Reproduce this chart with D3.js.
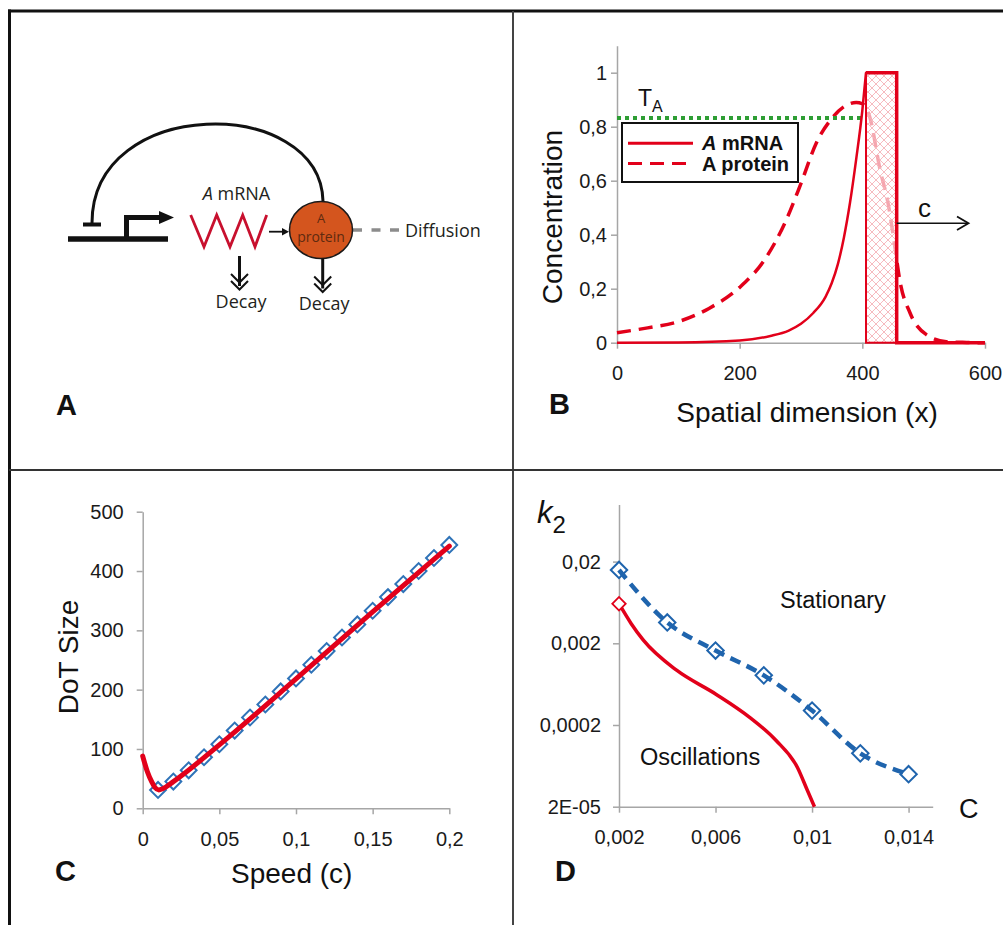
<!DOCTYPE html>
<html>
<head>
<meta charset="utf-8">
<script src="https://cdn.jsdelivr.net/npm/d3@7"></script>
<style>
body { margin: 0; background: #fff; }
svg { display: block; }
</style>
</head>
<body>
<script>
// ---- panel B: concentration profiles ----
const mrnaX = [0, 100, 200, 250, 280, 300, 320, 340, 350, 360, 370, 380, 390, 400, 406];
const mrnaY = [0, 0.001, 0.008, 0.025, 0.045, 0.07, 0.11, 0.17, 0.22, 0.29, 0.39, 0.52, 0.68, 0.86, 1.0];
const protX = [0, 50, 100, 150, 200, 240, 275, 300, 325, 350, 370, 390, 400, 412, 429, 442, 453, 461, 478, 505, 537, 570, 600];
const protY = [0.037, 0.055, 0.078, 0.127, 0.205, 0.305, 0.45, 0.59, 0.74, 0.83, 0.874, 0.89, 0.885, 0.837, 0.64, 0.516, 0.356, 0.232, 0.109, 0.029, 0.004, 0.001, 0];
const frontX = [406, 456];
const thresholdA = 0.832;
const bTicksX = [0, 200, 400, 600];
const bLabelsX = ["0", "200", "400", "600"];
const bTicksY = [0, 0.2, 0.4, 0.6, 0.8, 1];
const bLabelsY = ["0", "0,2", "0,4", "0,6", "0,8", "1"];

// ---- panel C: DoT size vs speed ----
const speed = [0.01, 0.02, 0.03, 0.04, 0.05, 0.06, 0.07, 0.08, 0.09, 0.1, 0.11, 0.12, 0.13, 0.14, 0.15, 0.16, 0.17, 0.18, 0.19, 0.2];
const dotSize = [31, 45, 64, 86, 108, 131, 153, 175, 197, 219, 242, 265, 288, 310, 333, 356, 378, 400, 422, 444];
const fitSpeed = [0, 0.003, 0.006, 0.008, 0.0105, 0.013, 0.02, 0.05, 0.1, 0.15, 0.2];
const fitSize = [88, 62, 44, 35, 31, 33, 45, 107, 218, 331, 442];
const cTicksX = [0, 0.05, 0.1, 0.15, 0.2];
const cLabelsX = ["0", "0,05", "0,1", "0,15", "0,2"];
const cTicksY = [0, 100, 200, 300, 400, 500];
const cLabelsY = ["0", "100", "200", "300", "400", "500"];

// ---- panel D: phase diagram ----
const statC = [0.002, 0.004, 0.006, 0.008, 0.010, 0.012, 0.014];
const statK2 = [0.0158, 0.0036, 0.00163, 0.00081, 0.0003, 0.00009, 0.00005];
const oscC = [0.002, 0.0025, 0.003, 0.0044, 0.006, 0.0074, 0.0085, 0.0094, 0.0098, 0.0101];
const oscK2 = [0.0061, 0.0035, 0.0022, 0.00093, 0.00048, 0.00025, 0.00013, 0.00006, 0.000032, 0.00002];
const dTicksX = [0.002, 0.006, 0.01, 0.014];
const dLabelsX = ["0,002", "0,006", "0,01", "0,014"];
const dTicksY = [0.00002, 0.0002, 0.002, 0.02];
const dLabelsY = ["2E-05", "0,0002", "0,002", "0,02"];

const ARIAL = "'Liberation Sans', Arial, sans-serif";
const OPEN = "'Open Sans', 'Noto Sans', sans-serif";
const RED = "#e2001a";
const BLUE = "#1f64ad";
const AXIS = "#a6a6a6";

const svg = d3.select("body").append("svg")
    .attr("width", 1003)
    .attr("height", 925);

const defs = svg.append("defs");
const pat = defs.append("pattern")
    .attr("id", "hatch")
    .attr("patternUnits", "userSpaceOnUse")
    .attr("width", 8).attr("height", 8);
pat.append("rect").attr("width", 8).attr("height", 8).attr("fill", "#fff").attr("fill-opacity", 0.65);
pat.append("path").attr("d", "M0,0L8,8M8,0L0,8").attr("stroke", "#f5b3b8").attr("stroke-width", 0.9);

// frame
svg.append("line").attr("x1", 9.5).attr("y1", 9.5).attr("x2", 9.5).attr("y2", 925).attr("stroke", "#111").attr("stroke-width", 3);
svg.append("line").attr("x1", 8).attr("y1", 11).attr("x2", 1003).attr("y2", 11).attr("stroke", "#111").attr("stroke-width", 3);
svg.append("line").attr("x1", 513).attr("y1", 11).attr("x2", 513).attr("y2", 925).attr("stroke", "#444").attr("stroke-width", 2);
svg.append("line").attr("x1", 9).attr("y1", 470).attr("x2", 1003).attr("y2", 470).attr("stroke", "#333").attr("stroke-width", 2);

function styleAxis(g) {
    g.attr("font-size", 20).attr("font-family", ARIAL);
    g.select(".domain").attr("stroke", AXIS).attr("stroke-width", 1.5);
    g.selectAll(".tick line").attr("stroke", AXIS).attr("stroke-width", 1.5);
    g.selectAll(".tick text").attr("fill", "#1a1a1a");
}

function label(x, y, txt, size, opts = {}) {
    const t = svg.append("text")
        .attr("x", x).attr("y", y)
        .attr("font-family", opts.family || ARIAL)
        .attr("font-size", size)
        .attr("font-weight", opts.weight || "normal")
        .attr("text-anchor", opts.anchor || "start")
        .attr("fill", opts.fill || "#111")
        .text(txt);
    if (opts.rotate) t.attr("transform", `rotate(-90, ${x}, ${y})`);
    return t;
}

// ================= panel A (schematic) =================
const a = svg.append("g");
a.append("path")
    .attr("d", "M92,223 C92,95 320,95 323,201")
    .attr("fill", "none").attr("stroke", "#111").attr("stroke-width", 3);
a.append("line").attr("x1", 83).attr("y1", 224.5).attr("x2", 101).attr("y2", 224.5).attr("stroke", "#111").attr("stroke-width", 4);
a.append("line").attr("x1", 68).attr("y1", 239).attr("x2", 168).attr("y2", 239).attr("stroke", "#111").attr("stroke-width", 5.5);
a.append("path").attr("d", "M126.5,239 V217.5 H161")
    .attr("fill", "none").attr("stroke", "#111").attr("stroke-width", 5);
a.append("path").attr("d", "M159,211 L174,217.5 L159,224 Z").attr("fill", "#111");
a.append("polyline")
    .attr("points", "190.7,215 204,246.7 216.7,215 230,246.7 242.7,215 255,246.7 266.7,215")
    .attr("fill", "none").attr("stroke", "#c8102e").attr("stroke-width", 2.8).attr("stroke-linejoin", "miter");
const mr = a.append("text").attr("x", 236.5).attr("y", 200).attr("text-anchor", "middle")
    .attr("font-family", OPEN).attr("font-size", 18).attr("fill", "#231f20");
mr.append("tspan").attr("font-style", "italic").text("A");
mr.append("tspan").text(" mRNA");
a.append("line").attr("x1", 269).attr("y1", 231.7).attr("x2", 283).attr("y2", 231.7).attr("stroke", "#111").attr("stroke-width", 1.8);
a.append("path").attr("d", "M282,228 L289,231.7 L282,235.4 Z").attr("fill", "#111");
a.append("line").attr("x1", 353).attr("y1", 230).attr("x2", 404).attr("y2", 230)
    .attr("stroke", "#8c8c8c").attr("stroke-width", 3.5).attr("stroke-dasharray", "9,9.5");
a.append("ellipse").attr("cx", 321).attr("cy", 230).attr("rx", 31.5).attr("ry", 28.5)
    .attr("fill", "#d4551e").attr("stroke", "#1a1a1a").attr("stroke-width", 1.5);
a.append("text").attr("x", 321).attr("y", 223).attr("text-anchor", "middle")
    .attr("font-family", OPEN).attr("font-size", 13).attr("fill", "#5e2a10").text("A");
a.append("text").attr("x", 321).attr("y", 242).attr("text-anchor", "middle")
    .attr("font-family", OPEN).attr("font-size", 14).attr("fill", "#5e2a10").text("protein");
a.append("text").attr("x", 405).attr("y", 237)
    .attr("font-family", OPEN).attr("font-size", 18).attr("fill", "#231f20").text("Diffusion");
[[239.5, 256, 308], [322.7, 258.5, 310]].forEach(([x, y0, ty]) => {
    a.append("line").attr("x1", x).attr("y1", y0).attr("x2", x).attr("y2", y0 + 30).attr("stroke", "#111").attr("stroke-width", 3);
    a.append("path").attr("d", `M${x - 8.5},${y0 + 18} L${x},${y0 + 26.5} L${x + 8.5},${y0 + 18} M${x - 8.5},${y0 + 25} L${x},${y0 + 33.5} L${x + 8.5},${y0 + 25}`)
        .attr("fill", "none").attr("stroke", "#111").attr("stroke-width", 2);
    a.append("text").attr("x", x + 1.5).attr("y", ty).attr("text-anchor", "middle")
        .attr("font-family", OPEN).attr("font-size", 18).attr("fill", "#231f20").text("Decay");
});
label(56, 415, "A", 29, { weight: "bold" });

// ================= panel B =================
const xB = d3.scaleLinear().domain([0, 600]).range([617, 985]);
const yB = d3.scaleLinear().domain([0, 1.1]).range([342.7, 45.7]);

svg.append("g").attr("transform", `translate(0,${yB(0)})`)
    .call(d3.axisBottom(xB).tickValues(bTicksX).tickFormat((d, i) => bLabelsX[i]).tickSize(6).tickSizeOuter(0).tickPadding(17))
    .call(styleAxis);
svg.append("g").attr("transform", `translate(${xB(0)},0)`)
    .call(d3.axisLeft(yB).tickValues(bTicksY).tickFormat((d, i) => bLabelsY[i]).tickSize(6).tickSizeOuter(0).tickPadding(4))
    .call(styleAxis);

const lineB = d3.line().x(d => xB(d[0])).y(d => yB(d[1])).curve(d3.curveMonotoneX);

svg.append("path")
    .attr("d", lineB(d3.zip(protX, protY)))
    .attr("fill", "none").attr("stroke", RED).attr("stroke-width", 3.5).attr("stroke-dasharray", "14,8");

svg.append("line")
    .attr("x1", xB(0)).attr("x2", xB(403)).attr("y1", yB(thresholdA)).attr("y2", yB(thresholdA))
    .attr("stroke", "#2e9e34").attr("stroke-width", 4).attr("stroke-dasharray", "4,4");

svg.append("rect")
    .attr("x", xB(frontX[0])).attr("y", yB(1))
    .attr("width", xB(frontX[1]) - xB(frontX[0])).attr("height", yB(0) - yB(1))
    .attr("fill", "url(#hatch)").attr("stroke", RED).attr("stroke-width", 2);

svg.append("path")
    .attr("d", lineB(d3.zip(mrnaX, mrnaY)))
    .attr("fill", "none").attr("stroke", RED).attr("stroke-width", 2.5);
svg.append("path")
    .attr("d", d3.line().x(d => xB(d[0])).y(d => yB(d[1]))([[frontX[0], 1], [frontX[1], 1], [frontX[1], 0], [600, 0]]))
    .attr("fill", "none").attr("stroke", RED).attr("stroke-width", 3.5);

// arrow c
svg.append("line").attr("x1", xB(frontX[1])).attr("x2", 968).attr("y1", 223.3).attr("y2", 223.3)
    .attr("stroke", "#111").attr("stroke-width", 1.6);
svg.append("path").attr("d", "M957,216.5 L968.5,223.3 L957,230").attr("fill", "none").attr("stroke", "#111").attr("stroke-width", 1.8);
label(918, 217, "c", 26);

// T_A
const ta = svg.append("text").attr("x", 638).attr("y", 106).attr("font-family", ARIAL).attr("font-size", 23).attr("fill", "#111");
ta.append("tspan").text("T");
ta.append("tspan").attr("font-size", 16).attr("dy", 6).text("A");

// legend
const lg = svg.append("g");
lg.append("rect").attr("x", 622).attr("y", 123).attr("width", 176).attr("height", 59)
    .attr("fill", "#fff").attr("stroke", "#111").attr("stroke-width", 2);
lg.append("line").attr("x1", 628).attr("x2", 693).attr("y1", 143.3).attr("y2", 143.3).attr("stroke", RED).attr("stroke-width", 3);
lg.append("line").attr("x1", 628).attr("x2", 693).attr("y1", 163.5).attr("y2", 163.5).attr("stroke", RED).attr("stroke-width", 3).attr("stroke-dasharray", "14,8");
const l1 = lg.append("text").attr("x", 702).attr("y", 150).attr("font-family", ARIAL).attr("font-size", 20).attr("font-weight", "bold").attr("fill", "#111");
l1.append("tspan").attr("font-style", "italic").text("A");
l1.append("tspan").text(" mRNA");
lg.append("text").attr("x", 702).attr("y", 171).attr("font-family", ARIAL).attr("font-size", 20).attr("font-weight", "bold").attr("fill", "#111").text("A protein");

label(562, 217, "Concentration", 28, { anchor: "middle", rotate: true });
label(807, 422, "Spatial dimension (x)", 28, { anchor: "middle" });
label(549, 414, "B", 29, { weight: "bold" });

// ================= panel C =================
const xC = d3.scaleLinear().domain([0, 0.2]).range([142.7, 449.3]);
const yC = d3.scaleLinear().domain([0, 500]).range([808.3, 511.7]);

svg.append("g").attr("transform", `translate(0,${yC(0)})`)
    .call(d3.axisBottom(xC).tickValues(cTicksX).tickFormat((d, i) => cLabelsX[i]).tickSize(6).tickSizeOuter(0).tickPadding(18))
    .call(styleAxis);
svg.append("g").attr("transform", `translate(${xC(0)},0)`)
    .call(d3.axisLeft(yC).tickValues(cTicksY).tickFormat((d, i) => cLabelsY[i]).tickSize(6).tickSizeOuter(0).tickPadding(13))
    .call(styleAxis);

const diamond = d3.symbol(d3.symbolSquare, 125);
svg.append("g").selectAll("path")
    .data(d3.zip(speed, dotSize))
    .join("path")
    .attr("d", diamond)
    .attr("transform", d => `translate(${xC(d[0])},${yC(d[1])}) rotate(45)`)
    .attr("fill", "none").attr("stroke", "#2f73b8").attr("stroke-width", 2);

svg.append("path")
    .attr("d", d3.line().x(d => xC(d[0])).y(d => yC(d[1])).curve(d3.curveMonotoneX)(d3.zip(fitSpeed, fitSize)))
    .attr("fill", "none").attr("stroke", RED).attr("stroke-width", 5).attr("stroke-linecap", "round");

label(78, 657, "DoT Size", 28, { anchor: "middle", rotate: true });
label(291.7, 883, "Speed (c)", 28, { anchor: "middle" });
label(55, 881, "C", 29, { weight: "bold" });

// ================= panel D =================
const xD = d3.scaleLinear().domain([0.002, 0.015]).range([619, 932.7]);
const yD = d3.scaleLog().domain([0.00002, 0.1]).range([806.7, 504.5]);

svg.append("g").attr("transform", `translate(0,${yD(0.00002)})`)
    .call(d3.axisBottom(xD).tickValues(dTicksX).tickFormat((d, i) => dLabelsX[i]).tickSize(6).tickSizeOuter(0).tickPadding(17))
    .call(styleAxis);
svg.append("g").attr("transform", `translate(${xD(0.002)},0)`)
    .call(d3.axisLeft(yD).tickValues(dTicksY).tickFormat((d, i) => dLabelsY[i]).tickSize(6).tickSizeOuter(0).tickPadding(12))
    .call(styleAxis);

const lineD = d3.line().x(d => xD(d[0])).y(d => yD(d[1])).curve(d3.curveMonotoneX);
svg.append("path")
    .attr("d", lineD(d3.zip(oscC, oscK2)))
    .attr("fill", "none").attr("stroke", RED).attr("stroke-width", 3.5);
svg.append("path")
    .attr("d", d3.symbol(d3.symbolSquare, 90))
    .attr("transform", `translate(${xD(oscC[0])},${yD(oscK2[0])}) rotate(45)`)
    .attr("fill", "#fff").attr("stroke", RED).attr("stroke-width", 1.8);

svg.append("g").selectAll("path")
    .data(d3.zip(statC, statK2))
    .join("path")
    .attr("d", d3.symbol(d3.symbolSquare, 135))
    .attr("transform", d => `translate(${xD(d[0])},${yD(d[1])}) rotate(45)`)
    .attr("fill", "#fff").attr("stroke", BLUE).attr("stroke-width", 2);
svg.append("path")
    .attr("d", lineD(d3.zip(statC, statK2)))
    .attr("fill", "none").attr("stroke", BLUE).attr("stroke-width", 4.5).attr("stroke-dasharray", "11,7");

const k2 = svg.append("text").attr("x", 537).attr("y", 523).attr("font-family", ARIAL).attr("font-size", 31).attr("fill", "#111");
k2.append("tspan").attr("font-style", "italic").text("k");
k2.append("tspan").attr("font-size", 24).attr("dy", 10).text("2");

label(780, 608, "Stationary", 23.5);
label(640, 765, "Oscillations", 23.5);
label(959, 818, "C", 27);
label(555, 881, "D", 29, { weight: "bold" });
</script>
</body>
</html>
